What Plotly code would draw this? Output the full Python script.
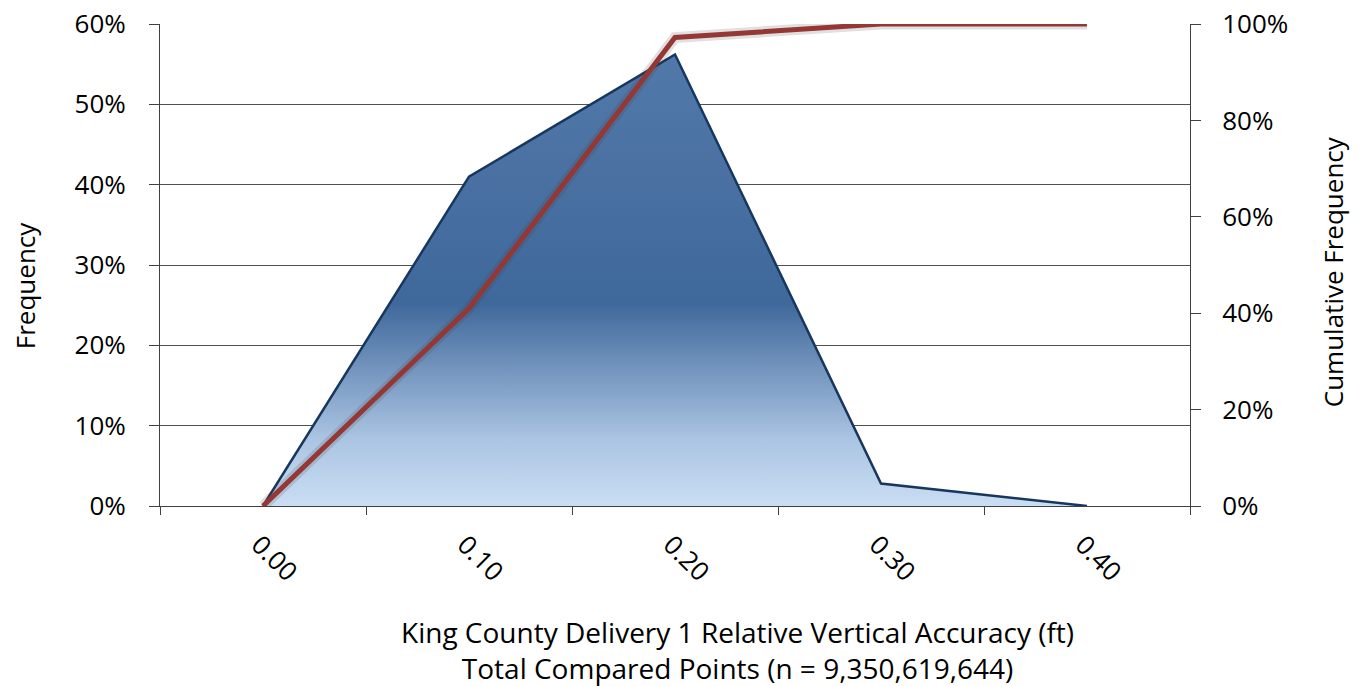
import plotly.graph_objects as go

# Relative vertical accuracy bins (ft) and their frequencies (%)
bins = ["0.00", "0.10", "0.20", "0.30", "0.40"]
frequency = [0.0, 41.0, 56.2, 2.8, 0.0]
cumulative = [0.0, 41.0, 97.2, 100.0, 100.0]

freq_ticks = [0, 10, 20, 30, 40, 50, 60]
cum_ticks = [0, 20, 40, 60, 80, 100]

FONT = "Open Sans"
FS = 26

fig = go.Figure()

# Frequency polygon with vertical blue gradient
fig.add_trace(go.Scatter(
    x=bins, y=frequency, mode="lines", fill="tozeroy",
    line=dict(color="#17375e", width=2.5),
    fillgradient=dict(
        type="vertical", start=0, stop=56,
        colorscale=[[0, "#cadef3"], [0.15, "#aac4e2"], [0.45, "#3f689b"],
                    [0.75, "#4a71a2"], [1, "#5079aa"]],
    ),
    yaxis="y", showlegend=False, hoverinfo="skip",
))

# Soft shadow under the cumulative line
fig.add_trace(go.Scatter(
    x=bins, y=cumulative, mode="lines",
    line=dict(color="rgba(60,60,60,0.16)", width=11),
    yaxis="y2", showlegend=False, hoverinfo="skip",
))

# Cumulative frequency line
fig.add_trace(go.Scatter(
    x=bins, y=cumulative, mode="lines",
    line=dict(color="#953735", width=5),
    yaxis="y2", showlegend=False,
))

fig.update_layout(
    width=1365, height=686,
    margin=dict(l=160, r=175, t=24, b=180, autoexpand=False),
    paper_bgcolor="white", plot_bgcolor="white",
    font=dict(family=FONT, size=FS, color="#000000"),
    xaxis=dict(
        type="category", tickson="boundaries",
        showgrid=False, showline=True, linecolor="#404040", linewidth=1,
        ticks="outside", ticklen=8, tickcolor="#404040",
        tickangle=45, ticklabelstandoff=12, ticklabelshift=-4,
        tickfont=dict(family=FONT, size=FS),
        range=[-0.5, 4.5], zeroline=False,
    ),
    yaxis=dict(
        range=[0, 60], tickvals=freq_ticks,
        ticktext=[f"{v}%" for v in freq_ticks],
        showgrid=True, gridcolor="#505050", gridwidth=1,
        showline=True, linecolor="#404040", linewidth=1,
        ticks="outside", ticklen=10, tickcolor="#404040",
        ticklabelstandoff=18,
        tickfont=dict(family=FONT, size=FS), zeroline=False,
    ),
    yaxis2=dict(
        range=[0, 100], tickvals=cum_ticks,
        ticktext=[f"{v}%" for v in cum_ticks],
        overlaying="y", side="right", showgrid=False,
        showline=True, linecolor="#404040", linewidth=1,
        ticks="outside", ticklen=10, tickcolor="#404040",
        ticklabelstandoff=16,
        tickfont=dict(family=FONT, size=FS), zeroline=False,
    ),
    annotations=[
        dict(text="Frequency", textangle=-90, xref="paper", yref="paper",
             x=0, y=0.456, xshift=-135, showarrow=False,
             xanchor="center", yanchor="middle",
             font=dict(family=FONT, size=FS)),
        dict(text="Cumulative Frequency", textangle=-90, xref="paper", yref="paper",
             x=1, y=0.485, xshift=143, showarrow=False,
             xanchor="center", yanchor="middle",
             font=dict(family=FONT, size=FS)),
        dict(text="King County Delivery 1 Relative Vertical Accuracy (ft)<br>"
                  "Total Compared Points (n = 9,350,619,644)",
             xref="paper", yref="paper", x=0.5, y=0, xshift=62, yshift=-144,
             xanchor="center", yanchor="middle",
             showarrow=False, align="center",
             font=dict(family=FONT, size=28)),
    ],
)

fig.write_html("out.html")
